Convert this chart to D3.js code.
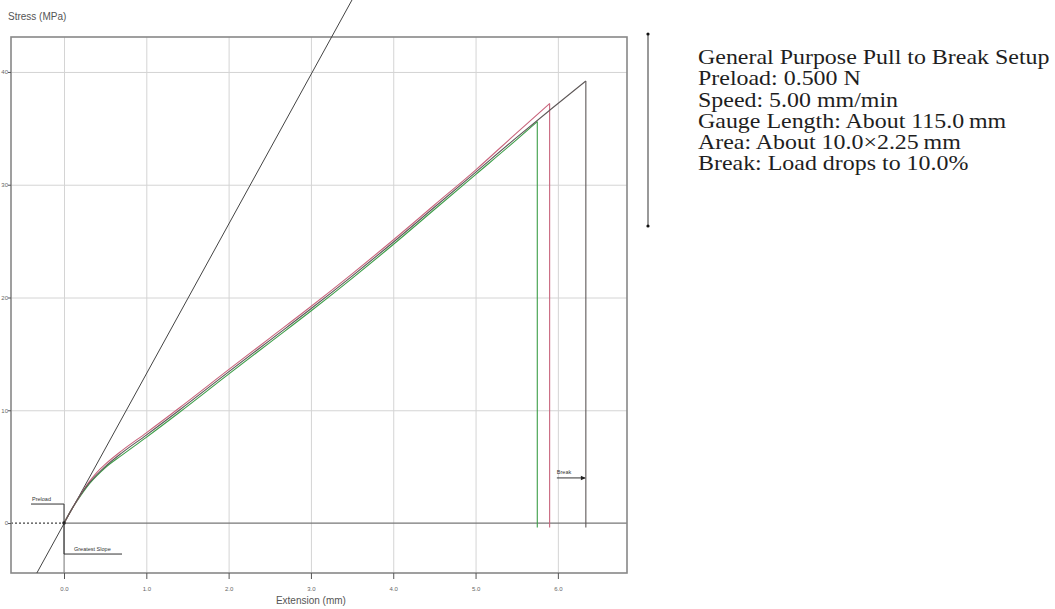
<!DOCTYPE html>
<html>
<head>
<meta charset="utf-8">
<script src="https://cdn.jsdelivr.net/npm/d3@7"></script>
<style>
  body { margin: 0; background: #fff; }
  .grid line { stroke: #d4d4d4; stroke-width: 1; }
  .grid path { display: none; }
  .axis text { fill: #666; font-family: "Liberation Sans", Arial, sans-serif; font-size: 6px; }
  .axis path { display: none; }
  .axis line { stroke: #555; }
  .curve { fill: none; stroke-width: 1.1; }
</style>
</head>
<body>
<div id="stressGraph"></div>
<script>
// chart values
var xTicks = [0, 1, 2, 3, 4, 5, 6];
var yTicks = [0, 10, 20, 30, 40];

var extensionDark = [0, 0.1, 0.2, 0.3, 0.4, 0.5, 0.7, 1.0, 1.4, 2.0, 2.5, 3.0, 3.5, 4.0, 4.5, 5.0, 5.5, 5.9, 6.34];
var stressDark = [0, 1.3, 2.5, 3.5, 4.3, 5.0, 6.2, 7.8, 10.0, 13.4, 16.2, 19.0, 21.9, 24.9, 28.0, 31.1, 34.2, 36.6, 39.2];

var extensionRed = [0, 0.1, 0.2, 0.3, 0.4, 0.5, 0.7, 1.0, 1.4, 2.0, 2.5, 3.0, 3.5, 4.0, 4.5, 5.0, 5.5, 5.9];
var stressRed = [0, 1.3, 2.5, 3.6, 4.5, 5.2, 6.4, 8.0, 10.2, 13.6, 16.4, 19.2, 22.1, 25.1, 28.2, 31.3, 34.6, 37.2];

var extensionGreen = [0, 0.1, 0.2, 0.3, 0.4, 0.5, 0.7, 1.0, 1.4, 2.0, 2.5, 3.0, 3.5, 4.0, 4.5, 5.0, 5.5, 5.75];
var stressGreen = [0, 1.3, 2.4, 3.4, 4.2, 4.9, 6.0, 7.6, 9.8, 13.2, 16.0, 18.8, 21.7, 24.7, 27.8, 30.9, 34.0, 35.6];

var breakStress = -0.4;
var slopeLineExtension = [-0.33, 3.5];
var slopeLineStress = [-4.43, 46.4];

var setupLines = [
  "General Purpose Pull to Break Setup",
  "Preload: 0.500 N",
  "Speed: 5.00 mm/min",
  "Gauge Length: About 115.0\u2009mm",
  "Area: About 10.0\u00d72.25\u2009mm",
  "Break: Load drops to 10.0%"
];

var stressGraphWidth = 1055, stressGraphHeight = 609;
var plotLeft = 11, plotRight = 627, plotTop = 37, plotBottom = 573;

var stressGraphSVG = d3.select("#stressGraph")
  .append("svg")
  .attr("width", stressGraphWidth)
  .attr("height", stressGraphHeight);

stressGraphSVG.append("rect")
  .attr("width", stressGraphWidth).attr("height", stressGraphHeight)
  .attr("fill", "#fff");

var xCoordinate = d3.scaleLinear().domain([-0.644, 6.84]).range([plotLeft, plotRight]);
var yCoordinate = d3.scaleLinear().domain([-4.43, 43.1]).range([plotBottom, plotTop]);

// grid lines
stressGraphSVG.append("g")
  .attr("class", "grid")
  .attr("transform", "translate(0," + plotBottom + ")")
  .call(d3.axisBottom(xCoordinate).tickValues(xTicks).tickSize(-(plotBottom - plotTop)).tickFormat(""));

stressGraphSVG.append("g")
  .attr("class", "grid")
  .attr("transform", "translate(" + plotLeft + ",0)")
  .call(d3.axisLeft(yCoordinate).tickValues(yTicks.slice(1)).tickSize(-(plotRight - plotLeft)).tickFormat(""));

// zero line, dotted to the left of the origin
stressGraphSVG.append("line")
  .attr("x1", xCoordinate(0)).attr("x2", plotRight)
  .attr("y1", yCoordinate(0)).attr("y2", yCoordinate(0))
  .attr("stroke", "#777").attr("stroke-width", 1.2);

stressGraphSVG.append("line")
  .attr("x1", plotLeft).attr("x2", xCoordinate(0))
  .attr("y1", yCoordinate(0)).attr("y2", yCoordinate(0))
  .attr("stroke", "#444").attr("stroke-width", 1.2)
  .attr("stroke-dasharray", "2,2");

stressGraphSVG.append("line")
  .attr("x1", xCoordinate(0)).attr("x2", xCoordinate(0))
  .attr("y1", yCoordinate(0)).attr("y2", plotBottom)
  .attr("stroke", "#888").attr("stroke-width", 1);

// frame
stressGraphSVG.append("rect")
  .attr("x", plotLeft).attr("y", plotTop)
  .attr("width", plotRight - plotLeft).attr("height", plotBottom - plotTop)
  .attr("fill", "none").attr("stroke", "#888").attr("stroke-width", 1.6);

// Add the X Axis
stressGraphSVG.append("g")
  .attr("class", "x axis")
  .attr("transform", "translate(0," + plotBottom + ")")
  .call(d3.axisBottom(xCoordinate).tickValues(xTicks).tickSize(6).tickPadding(8).tickFormat(d3.format(".1f")));

// Add the Y Axis
stressGraphSVG.append("g")
  .attr("class", "y axis")
  .attr("transform", "translate(" + plotLeft + ",0)")
  .call(d3.axisLeft(yCoordinate).tickValues(yTicks).tickSize(3).tickPadding(0).tickFormat(d3.format("d")));

stressGraphSVG.append("text")
  .attr("x", 8).attr("y", 20)
  .attr("font-family", "Liberation Sans, Arial, sans-serif")
  .attr("font-size", 10).attr("fill", "#555")
  .text("Stress (MPa)");

stressGraphSVG.append("text")
  .attr("x", xCoordinate(3)).attr("y", 604)
  .attr("text-anchor", "middle")
  .attr("font-family", "Liberation Sans, Arial, sans-serif")
  .attr("font-size", 10).attr("fill", "#555")
  .text("Extension (mm)");

// greatest slope line (drawn past the frame like the original)
stressGraphSVG.append("line")
  .attr("x1", xCoordinate(slopeLineExtension[0])).attr("y1", yCoordinate(slopeLineStress[0]))
  .attr("x2", xCoordinate(slopeLineExtension[1])).attr("y2", yCoordinate(slopeLineStress[1]))
  .attr("stroke", "#444").attr("stroke-width", 1);

// Define the line
var stressLine = d3.line()
  .x(function (d) { return xCoordinate(d[0]); })
  .y(function (d) { return yCoordinate(d[1]); })
  .curve(d3.curveMonotoneX);

var stressSeries = [
  { ext: extensionGreen, stress: stressGreen, color: "#3c9e48" },
  { ext: extensionRed, stress: stressRed, color: "#c8647c" },
  { ext: extensionDark, stress: stressDark, color: "#5e5858" }
];

stressSeries.forEach(function (s) {
  var pts = s.ext.map(function (e, i) { return [e, s.stress[i]]; });
  var last = pts[pts.length - 1];

  stressGraphSVG.append("path")
    .attr("class", "curve")
    .attr("stroke", s.color)
    .attr("d", stressLine(pts));

  // drop at break
  stressGraphSVG.append("line")
    .attr("x1", xCoordinate(last[0])).attr("x2", xCoordinate(last[0]))
    .attr("y1", yCoordinate(last[1])).attr("y2", yCoordinate(breakStress))
    .attr("stroke", s.color).attr("stroke-width", 1.1);
});

// Preload marker
var originX = xCoordinate(0), originY = yCoordinate(0);
var smallFont = "Liberation Sans, Arial, sans-serif";

stressGraphSVG.append("path")
  .attr("d", "M" + (originX - 33) + "," + (originY - 19) + "H" + originX + "V" + originY)
  .attr("fill", "none").attr("stroke", "#333").attr("stroke-width", 1);

stressGraphSVG.append("text")
  .attr("x", originX - 32).attr("y", originY - 22)
  .attr("font-family", smallFont).attr("font-size", 5.5).attr("fill", "#333")
  .text("Preload");

stressGraphSVG.append("circle")
  .attr("cx", originX).attr("cy", originY).attr("r", 1.8).attr("fill", "#222");

// Greatest Slope marker
stressGraphSVG.append("path")
  .attr("d", "M" + originX + "," + originY + "V" + (originY + 31) + "H" + (originX + 58))
  .attr("fill", "none").attr("stroke", "#333").attr("stroke-width", 1);

stressGraphSVG.append("text")
  .attr("x", originX + 10).attr("y", originY + 28)
  .attr("font-family", smallFont).attr("font-size", 5.5).attr("fill", "#333")
  .text("Greatest Slope");

// Break marker
var breakX = xCoordinate(extensionDark[extensionDark.length - 1]);
var breakY = yCoordinate(4);

stressGraphSVG.append("line")
  .attr("x1", breakX - 29).attr("x2", breakX - 1)
  .attr("y1", breakY).attr("y2", breakY)
  .attr("stroke", "#333").attr("stroke-width", 1);

stressGraphSVG.append("path")
  .attr("d", "M" + breakX + "," + breakY + "l-5,-2.2v4.4z")
  .attr("fill", "#222");

stressGraphSVG.append("text")
  .attr("x", breakX - 29).attr("y", breakY - 4)
  .attr("font-family", smallFont).attr("font-size", 5.5).attr("fill", "#333")
  .text("Break");

// range arrow on the right
stressGraphSVG.append("line")
  .attr("x1", 648).attr("x2", 648)
  .attr("y1", 34).attr("y2", 226)
  .attr("stroke", "#555").attr("stroke-width", 1.2);

stressGraphSVG.selectAll(".rangeEnd")
  .data([34, 226])
  .enter().append("circle")
  .attr("class", "rangeEnd")
  .attr("cx", 648).attr("cy", function (d) { return d; })
  .attr("r", 1.6).attr("fill", "#111");

// setup description
var setupText = stressGraphSVG.append("g")
  .attr("transform", "translate(698,0) scale(1.14,1)");

setupText.selectAll("text")
  .data(setupLines)
  .enter().append("text")
  .attr("x", 0)
  .attr("y", function (d, i) { return 64 + i * 21.3; })
  .attr("font-family", "Liberation Serif, Times New Roman, serif")
  .attr("font-size", 21)
  .attr("fill", "#1e1e1e")
  .text(function (d) { return d; });
</script>
</body>
</html>
